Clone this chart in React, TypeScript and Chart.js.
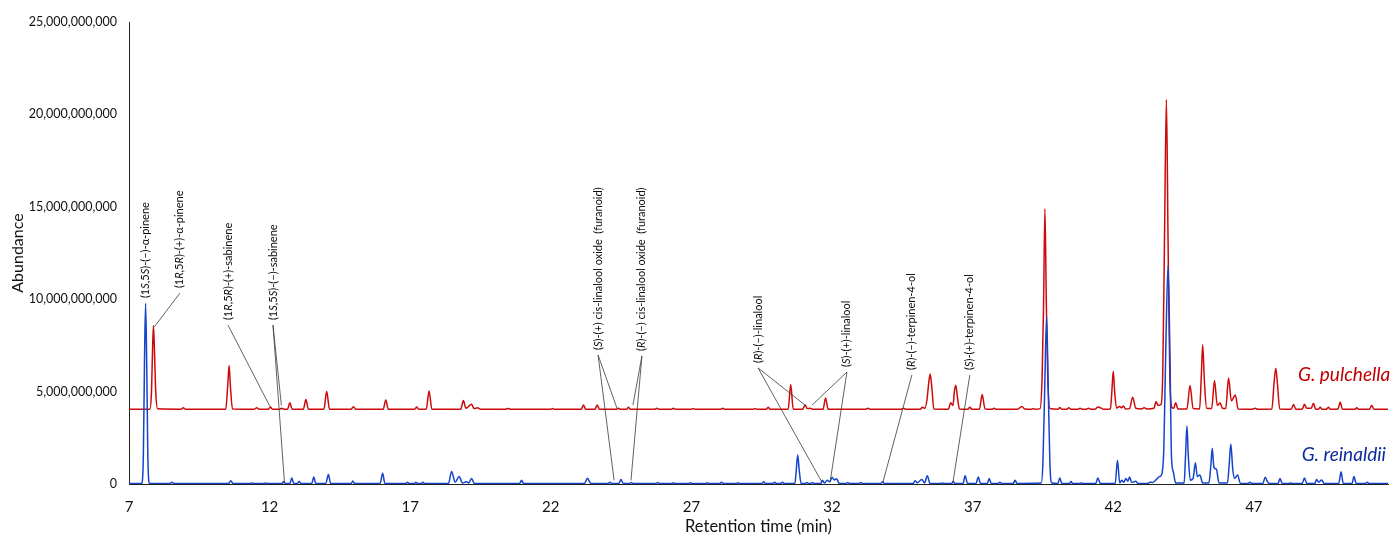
import { useEffect, useRef } from 'react';
import { Chart, registerables } from 'chart.js';

Chart.register(...registerables);

const FONT = 'Lato, "Open Sans", sans-serif';
const SCALE = 1e9; // values below are read in units of 10^9

// ---- axis ticks ----
const xTicks = [7, 12, 17, 22, 27, 32, 37, 42, 47];
const yTicks = [0, 5, 10, 15, 20, 25];
const xRange = [7, 51.77];

// ---- G. pulchella trace: [retention time (min), abundance (x1e9)] ----
const pulchellaTrace: [number, number][] = [
  [7.0, 4.05],
  [7.74, 4.05], [7.8, 5.0], [7.84, 7.4], [7.87, 8.56], [7.91, 7.0], [7.95, 5.0], [8.02, 4.07],
  [8.85, 4.05], [8.93, 4.13], [9.01, 4.05],
  [10.44, 4.05], [10.51, 5.3], [10.56, 6.41], [10.61, 5.2], [10.68, 4.06],
  [11.46, 4.05], [11.54, 4.12], [11.62, 4.05],
  [11.96, 4.05], [12.03, 4.16], [12.1, 4.05],
  [12.36, 4.05], [12.43, 4.1], [12.5, 4.05],
  [12.64, 4.05], [12.72, 4.4], [12.8, 4.05],
  [13.2, 4.05], [13.29, 4.57], [13.38, 4.05],
  [13.93, 4.05], [14.03, 5.0], [14.13, 4.05],
  [14.9, 4.05], [14.98, 4.18], [15.06, 4.05],
  [16.04, 4.05], [16.13, 4.55], [16.22, 4.05],
  [17.16, 4.05], [17.23, 4.16], [17.3, 4.05],
  [17.57, 4.05], [17.67, 5.03], [17.77, 4.05],
  [18.8, 4.05], [18.89, 4.52], [18.98, 4.1], [19.18, 4.32], [19.27, 4.08], [19.4, 4.12], [19.5, 4.05],
  [20.4, 4.05], [20.48, 4.09], [20.56, 4.05],
  [22.0, 4.05], [22.06, 4.08], [22.12, 4.05],
  [23.08, 4.05], [23.16, 4.27], [23.24, 4.05],
  [23.57, 4.05], [23.65, 4.27], [23.73, 4.05],
  [24.34, 4.05], [24.4, 4.1], [24.46, 4.05],
  [24.7, 4.05], [24.76, 4.15], [24.82, 4.05],
  [25.71, 4.05], [25.77, 4.1], [25.83, 4.05],
  [26.3, 4.05], [26.36, 4.1], [26.42, 4.05],
  [27.0, 4.05], [27.06, 4.08], [27.12, 4.05],
  [28.05, 4.05], [28.11, 4.1], [28.17, 4.05],
  [29.2, 4.05], [29.26, 4.09], [29.32, 4.05],
  [29.67, 4.05], [29.73, 4.15], [29.79, 4.05],
  [30.44, 4.05], [30.53, 5.38], [30.62, 4.05],
  [30.96, 4.05], [31.04, 4.28], [31.12, 4.08], [31.22, 4.1], [31.3, 4.05],
  [31.68, 4.05], [31.77, 4.66], [31.86, 4.05],
  [33.2, 4.05], [33.27, 4.1], [33.34, 4.05],
  [34.47, 4.05], [34.54, 4.1], [34.61, 4.05],
  [35.14, 4.05], [35.21, 4.15], [35.3, 4.1], [35.38, 4.6], [35.44, 5.5], [35.49, 5.95], [35.55, 5.2], [35.62, 4.06],
  [36.14, 4.05], [36.22, 4.4], [36.3, 4.25], [36.35, 5.0], [36.4, 5.35], [36.46, 4.7], [36.53, 4.06],
  [36.83, 4.05], [36.9, 4.15], [36.97, 4.05],
  [37.24, 4.05], [37.34, 4.84], [37.44, 4.06],
  [37.7, 4.05], [37.76, 4.1], [37.82, 4.05],
  [38.6, 4.05], [38.75, 4.2], [38.85, 4.06],
  [39.1, 4.05], [39.16, 4.08], [39.22, 4.05],
  [39.4, 4.08], [39.47, 5.8], [39.52, 9.5], [39.57, 14.89], [39.62, 9.8], [39.67, 5.8], [39.75, 4.08],
  [40.04, 4.05], [40.1, 4.14], [40.16, 4.05],
  [40.35, 4.05], [40.42, 4.12], [40.49, 4.05],
  [40.75, 4.05], [40.82, 4.1], [40.89, 4.05],
  [41.05, 4.05], [41.12, 4.1], [41.19, 4.05],
  [41.35, 4.05], [41.45, 4.16], [41.55, 4.12], [41.65, 4.05],
  [41.9, 4.06], [41.95, 5.0], [42.0, 6.1], [42.05, 5.0], [42.12, 4.1],
  [42.22, 4.2], [42.3, 4.12], [42.36, 4.22], [42.44, 4.06],
  [42.58, 4.08], [42.69, 4.7], [42.8, 4.1],
  [43.0, 4.06], [43.1, 4.12], [43.2, 4.06],
  [43.45, 4.1], [43.52, 4.45], [43.6, 4.25], [43.7, 4.3], [43.76, 6.0], [43.82, 13.0], [43.89, 20.8], [43.95, 13.0], [44.01, 6.0], [44.08, 4.15],
  [44.15, 4.1], [44.22, 4.4], [44.3, 4.06],
  [44.62, 4.06], [44.73, 5.33], [44.84, 4.08],
  [45.07, 4.06], [45.13, 5.8], [45.18, 7.53], [45.24, 5.6], [45.32, 4.1],
  [45.5, 4.08], [45.6, 5.6], [45.7, 4.25], [45.8, 4.38], [45.88, 4.1],
  [46.0, 4.08], [46.1, 5.73], [46.2, 4.5], [46.34, 4.82], [46.44, 4.06],
  [46.95, 4.05], [47.05, 4.1], [47.12, 4.05],
  [47.64, 4.06], [47.72, 5.5], [47.78, 6.27], [47.84, 5.4], [47.92, 4.06],
  [48.33, 4.05], [48.41, 4.3], [48.49, 4.05],
  [48.72, 4.05], [48.8, 4.32], [48.88, 4.1],
  [49.04, 4.1], [49.12, 4.37], [49.2, 4.05],
  [49.3, 4.05], [49.36, 4.15], [49.42, 4.05],
  [49.59, 4.05], [49.65, 4.15], [49.71, 4.05],
  [49.99, 4.06], [50.07, 4.43], [50.15, 4.05],
  [50.6, 4.05], [50.66, 4.12], [50.72, 4.05],
  [51.11, 4.05], [51.19, 4.25], [51.27, 4.05],
  [51.77, 4.05],
];

// ---- G. reinaldii trace: [retention time (min), abundance (x1e9)] ----
const reinaldiiTrace: [number, number][] = [
  [7.0, 0.03],
  [7.45, 0.03], [7.51, 1.5], [7.55, 6.5], [7.59, 9.78], [7.63, 6.5], [7.67, 1.5], [7.73, 0.03],
  [8.45, 0.03], [8.52, 0.09], [8.6, 0.03],
  [10.54, 0.03], [10.62, 0.18], [10.7, 0.03],
  [11.3, 0.03], [11.36, 0.06], [11.42, 0.03],
  [11.8, 0.03], [11.86, 0.06], [11.92, 0.03],
  [12.44, 0.03], [12.5, 0.13], [12.56, 0.03],
  [12.72, 0.03], [12.79, 0.32], [12.86, 0.03],
  [12.99, 0.03], [13.05, 0.15], [13.11, 0.03],
  [13.5, 0.03], [13.57, 0.38], [13.64, 0.03],
  [14.0, 0.03], [14.09, 0.52], [14.17, 0.03],
  [14.9, 0.03], [14.96, 0.16], [15.02, 0.03],
  [15.93, 0.03], [16.02, 0.58], [16.1, 0.03],
  [16.85, 0.03], [16.9, 0.1], [16.95, 0.03],
  [17.15, 0.03], [17.2, 0.1], [17.25, 0.03],
  [17.4, 0.03], [17.45, 0.1], [17.5, 0.03],
  [18.36, 0.03], [18.47, 0.67], [18.6, 0.1], [18.74, 0.4], [18.86, 0.05], [19.0, 0.12], [19.08, 0.06], [19.18, 0.3], [19.28, 0.03],
  [20.89, 0.03], [20.96, 0.2], [21.03, 0.03],
  [23.2, 0.03], [23.3, 0.31], [23.42, 0.03],
  [24.04, 0.03], [24.1, 0.1], [24.16, 0.03],
  [24.42, 0.03], [24.49, 0.25], [24.58, 0.03],
  [24.8, 0.03], [24.86, 0.08], [24.92, 0.03],
  [25.74, 0.03], [25.8, 0.08], [25.86, 0.03],
  [26.3, 0.03], [26.36, 0.07], [26.42, 0.03],
  [26.9, 0.03], [26.96, 0.07], [27.02, 0.03],
  [27.5, 0.03], [27.56, 0.07], [27.62, 0.03],
  [28.01, 0.03], [28.07, 0.1], [28.13, 0.03],
  [28.6, 0.03], [28.66, 0.07], [28.72, 0.03],
  [29.51, 0.03], [29.57, 0.12], [29.63, 0.03],
  [29.9, 0.03], [29.96, 0.1], [30.02, 0.03],
  [30.18, 0.03], [30.24, 0.1], [30.3, 0.03],
  [30.68, 0.03], [30.73, 0.8], [30.78, 1.57], [30.83, 0.8], [30.9, 0.03],
  [31.04, 0.03], [31.1, 0.08], [31.16, 0.03],
  [31.24, 0.03], [31.3, 0.08], [31.36, 0.03],
  [31.6, 0.03], [31.66, 0.2], [31.73, 0.06], [31.83, 0.2], [31.92, 0.12], [32.0, 0.37], [32.08, 0.22], [32.16, 0.28], [32.26, 0.03],
  [32.5, 0.03], [32.56, 0.08], [32.62, 0.03],
  [32.96, 0.03], [33.02, 0.08], [33.08, 0.03],
  [33.74, 0.03], [33.8, 0.12], [33.86, 0.03],
  [34.89, 0.03], [34.95, 0.18], [35.03, 0.06], [35.19, 0.25], [35.29, 0.06], [35.39, 0.45], [35.48, 0.03],
  [35.86, 0.03], [35.92, 0.06], [35.98, 0.03],
  [36.25, 0.03], [36.31, 0.13], [36.37, 0.03],
  [36.66, 0.03], [36.73, 0.45], [36.82, 0.03],
  [37.12, 0.03], [37.2, 0.38], [37.28, 0.03],
  [37.52, 0.03], [37.59, 0.3], [37.66, 0.03],
  [37.91, 0.03], [37.97, 0.1], [38.03, 0.03],
  [38.44, 0.03], [38.51, 0.2], [38.58, 0.03],
  [39.44, 0.05], [39.5, 1.2], [39.56, 5.0], [39.63, 9.06], [39.69, 5.0], [39.75, 1.0], [39.82, 0.05],
  [40.03, 0.03], [40.1, 0.33], [40.17, 0.03],
  [40.44, 0.03], [40.5, 0.13], [40.56, 0.03],
  [40.8, 0.03], [40.86, 0.06], [40.92, 0.03],
  [41.38, 0.03], [41.45, 0.33], [41.54, 0.03],
  [42.07, 0.03], [42.15, 1.29], [42.23, 0.06], [42.3, 0.2], [42.38, 0.1], [42.45, 0.3], [42.52, 0.15], [42.58, 0.38], [42.66, 0.08], [42.8, 0.15], [42.88, 0.03],
  [43.24, 0.03], [43.3, 0.1], [43.4, 0.08], [43.55, 0.27], [43.64, 0.4], [43.72, 0.5], [43.8, 2.0], [43.87, 7.5], [43.95, 11.83], [44.02, 6.5], [44.07, 1.5], [44.14, 0.63], [44.22, 0.05],
  [44.52, 0.05], [44.57, 1.5], [44.62, 3.14], [44.67, 1.5], [44.74, 0.2], [44.84, 0.3], [44.92, 1.15], [44.99, 0.4], [45.08, 0.49], [45.18, 0.05],
  [45.4, 0.05], [45.47, 1.0], [45.52, 1.93], [45.58, 0.9], [45.67, 0.79], [45.76, 0.05],
  [46.06, 0.05], [46.12, 1.0], [46.18, 2.16], [46.25, 0.8], [46.32, 0.3], [46.42, 0.49], [46.52, 0.03],
  [46.8, 0.03], [46.86, 0.1], [46.92, 0.03],
  [47.32, 0.03], [47.4, 0.36], [47.5, 0.08], [47.58, 0.03],
  [47.86, 0.03], [47.93, 0.3], [48.01, 0.03],
  [48.24, 0.03], [48.3, 0.05], [48.36, 0.03],
  [48.72, 0.03], [48.8, 0.33], [48.88, 0.03],
  [49.17, 0.03], [49.23, 0.24], [49.31, 0.1], [49.41, 0.22], [49.5, 0.03],
  [50.02, 0.03], [50.1, 0.66], [50.18, 0.03],
  [50.49, 0.03], [50.56, 0.4], [50.64, 0.03],
  [50.97, 0.03], [51.03, 0.1], [51.09, 0.03],
  [51.77, 0.03],
];

// ---- series names drawn next to the traces ----
const seriesNames = ['G. pulchella', 'G. reinaldii'];
const seriesNameAt: [number, number][] = [[48.57, 5.89], [48.7, 1.57]];

// ---- peak identifications (text, label foot [min, x1e9], peaks pointed to) ----
// *...* marks italic parts
const peakLabels = [
  '(1*S*,5*S*)-(–)-α-pinene',
  '(1*R*,5*R*)-(+)-α-pinene',
  '(1*R*,5*R*)-(+)-sabinene',
  '(1*S*,5*S*)-(–)-sabinene',
  '(*S*)-(+) cis-linalool oxide  (furanoid)',
  '(*R*)-(–) cis-linalool oxide  (furanoid)',
  '(*R*)-(–)-linalool',
  '(*S*)-(+)-linalool',
  '(*R*)-(–)-terpinen-4-ol',
  '(*S*)-(+)-terpinen-4-ol',
];
const peakLabelFoot: [number, number][] = [
  [7.6, 10.06], [8.81, 10.6], [10.52, 8.87], [12.12, 8.87], [23.68, 7.25],
  [25.24, 7.2], [29.37, 6.55], [32.53, 6.33], [34.84, 6.17], [36.9, 6.17],
];
const peakTargets: [number, number][][] = [
  [],
  [[7.9, 8.5]],
  [[12.01, 4.2]],
  [[12.42, 4.25], [12.53, 0.05]],
  [[24.35, 4.11], [24.25, 0.2]],
  [[24.92, 4.27], [24.85, 0.2]],
  [[31.04, 4.27], [31.64, 0.1]],
  [[31.29, 4.27], [31.93, 0.1]],
  [[33.81, 0.1]],
  [[36.3, 0.1]],
];

const RED = '#cc0a0a';
const BLUE = '#1443cc';
const NAME_COLORS = ['#c00000', '#0d2a9a'];

const annotationPlugin = {
  id: 'peakAnnotations',
  afterDatasetsDraw(chart: any) {
    const { ctx } = chart;
    const xs = chart.scales.x;
    const ys = chart.scales.y;
    ctx.save();
    // leader lines
    ctx.strokeStyle = '#3a3a3a';
    ctx.lineWidth = 0.8;
    peakLabels.forEach((_, i) => {
      const lx = xs.getPixelForValue(peakLabelFoot[i][0]);
      const ly = ys.getPixelForValue(peakLabelFoot[i][1] * SCALE);
      peakTargets[i].forEach((t) => {
        ctx.beginPath();
        ctx.moveTo(lx, ly + 5);
        ctx.lineTo(xs.getPixelForValue(t[0]), ys.getPixelForValue(t[1] * SCALE));
        ctx.stroke();
      });
    });
    // rotated labels
    ctx.fillStyle = '#0a0a0a';
    ctx.textBaseline = 'middle';
    ctx.textAlign = 'left';
    peakLabels.forEach((text, i) => {
      const lx = xs.getPixelForValue(peakLabelFoot[i][0]);
      const ly = ys.getPixelForValue(peakLabelFoot[i][1] * SCALE);
      ctx.save();
      ctx.translate(lx, ly);
      ctx.rotate(-Math.PI / 2);
      let cx = 0;
      text.split('*').forEach((part, k) => {
        ctx.font = `${k % 2 ? 'italic ' : ''}11px ${FONT}`;
        ctx.fillText(part, cx, 0);
        cx += ctx.measureText(part).width;
      });
      ctx.restore();
    });
    // series names
    ctx.font = `italic 19px ${FONT}`;
    seriesNames.forEach((name, i) => {
      ctx.fillStyle = NAME_COLORS[i];
      ctx.fillText(
        name,
        xs.getPixelForValue(seriesNameAt[i][0]),
        ys.getPixelForValue(seriesNameAt[i][1] * SCALE)
      );
    });
    ctx.restore();
  },
};

export default function App() {
  const ref = useRef<HTMLCanvasElement>(null);
  useEffect(() => {
    document.body.style.margin = '0';
    const chart = new Chart(ref.current as HTMLCanvasElement, {
      type: 'line',
      data: {
        datasets: [
          {
            label: seriesNames[1],
            data: reinaldiiTrace.map(([t, v]) => ({ x: t, y: v * SCALE })),
            borderColor: BLUE,
            borderWidth: 1.5,
            pointRadius: 0,
            cubicInterpolationMode: 'monotone',
            fill: false,
          },
          {
            label: seriesNames[0],
            data: pulchellaTrace.map(([t, v]) => ({ x: t, y: v * SCALE })),
            borderColor: RED,
            borderWidth: 1.5,
            pointRadius: 0,
            cubicInterpolationMode: 'monotone',
            fill: false,
          },
        ],
      },
      options: {
        animation: false,
        responsive: false,
        devicePixelRatio: 1,
        layout: { padding: { top: 22, right: 4, left: 0, bottom: 0 } },
        plugins: { legend: { display: false }, tooltip: { enabled: false } },
        scales: {
          x: {
            type: 'linear',
            min: xRange[0],
            max: xRange[1],
            afterBuildTicks: (axis: any) => {
              axis.ticks = xTicks.map((value) => ({ value }));
            },
            afterFit: (axis: any) => {
              axis.height = 51;
            },
            ticks: {
              autoSkip: false,
              maxRotation: 0,
              padding: 14,
              color: '#111',
              font: { family: FONT, size: 15 },
              callback: (v: any) => String(v),
            },
            grid: { display: false, drawTicks: false },
            border: { display: true, color: '#222', width: 1 },
            title: {
              display: true,
              text: 'Retention time (min)',
              color: '#111',
              font: { family: FONT, size: 16.5 },
              padding: { top: 0, bottom: -2 },
            },
          },
          y: {
            type: 'linear',
            min: 0,
            max: yTicks[yTicks.length - 1] * SCALE,
            afterBuildTicks: (axis: any) => {
              axis.ticks = yTicks.map((v) => ({ value: v * SCALE }));
            },
            afterFit: (axis: any) => {
              axis.width = 129;
            },
            ticks: {
              padding: 12,
              color: '#111',
              font: { family: FONT, size: 12.5 },
              callback: (v: any) => Number(v).toLocaleString('en-US'),
            },
            grid: { display: false, drawTicks: false },
            border: { display: true, color: '#222', width: 1 },
            title: {
              display: true,
              text: 'Abundance',
              color: '#111',
              font: { family: FONT, size: 16 },
              padding: { top: 8, bottom: 0 },
            },
          },
        },
      },
      plugins: [annotationPlugin],
    } as any);
    return () => chart.destroy();
  }, []);
  return (
    <div style={{ position: 'fixed', left: 0, top: 0, width: 1392, height: 535 }}>
      <canvas ref={ref} width={1392} height={535} style={{ display: 'block' }} />
    </div>
  );
}
